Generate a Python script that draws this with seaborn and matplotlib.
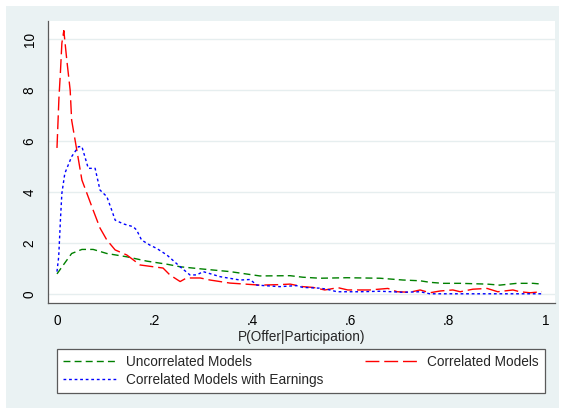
import pandas as pd
import seaborn as sns
import matplotlib.pyplot as plt
from matplotlib.patches import Rectangle
from matplotlib.lines import Line2D

# kernel density readings, P(Offer|Participation) vs density
unc_x = [0.000, 0.013, 0.030, 0.051, 0.074, 0.102, 0.143, 0.184, 0.225, 0.252,
         0.293, 0.354, 0.415, 0.477, 0.503, 0.538, 0.593, 0.661, 0.708, 0.743,
         0.763, 0.790, 0.825, 0.880, 0.906, 0.941, 0.974, 0.992]
unc_y = [0.80, 1.15, 1.60, 1.76, 1.76, 1.60, 1.47, 1.30, 1.18, 1.08,
         1.00, 0.89, 0.72, 0.73, 0.67, 0.63, 0.65, 0.63, 0.56, 0.53,
         0.47, 0.43, 0.43, 0.40, 0.36, 0.43, 0.43, 0.40]

cor_x = [0.000, 0.004, 0.007, 0.010, 0.014, 0.020, 0.027, 0.030, 0.037, 0.044,
         0.051, 0.061, 0.074, 0.088, 0.102, 0.119, 0.143, 0.170, 0.197, 0.217,
         0.231, 0.252, 0.265, 0.293, 0.313, 0.354, 0.415, 0.456, 0.477, 0.503,
         0.524, 0.548, 0.575, 0.595, 0.640, 0.677, 0.696, 0.722, 0.743, 0.763,
         0.784, 0.810, 0.825, 0.851, 0.880, 0.902, 0.933, 0.947, 0.968, 0.992]
cor_y = [5.74, 7.70, 8.70, 9.85, 10.34, 9.20, 8.00, 6.83, 6.05, 5.27,
         4.48, 3.97, 3.30, 2.60, 2.13, 1.74, 1.54, 1.15, 1.08, 1.03,
         0.76, 0.50, 0.64, 0.64, 0.56, 0.44, 0.36, 0.38, 0.40, 0.30,
         0.27, 0.17, 0.26, 0.17, 0.17, 0.23, 0.10, 0.08, 0.17, 0.06,
         0.13, 0.17, 0.10, 0.20, 0.23, 0.10, 0.17, 0.10, 0.06, 0.10]

earn_x = [0.000, 0.0035, 0.007, 0.010, 0.016, 0.030, 0.044, 0.051, 0.057, 0.064,
          0.078, 0.088, 0.102, 0.112, 0.119, 0.136, 0.156, 0.163, 0.173, 0.190,
          0.204, 0.225, 0.252, 0.272, 0.286, 0.299, 0.334, 0.3745, 0.395, 0.409,
          0.456, 0.490, 0.503, 0.538, 0.552, 0.573, 0.620, 0.661, 0.708, 0.743,
          0.763, 0.850, 0.992]
earn_y = [0.89, 1.47, 2.90, 3.96, 4.74, 5.40, 5.79, 5.79, 5.40, 4.94,
          4.94, 4.09, 3.83, 3.30, 2.91, 2.76, 2.65, 2.52, 2.13, 1.93,
          1.80, 1.54, 1.08, 0.76, 0.76, 0.89, 0.69, 0.56, 0.58, 0.36,
          0.30, 0.34, 0.27, 0.24, 0.20, 0.10, 0.10, 0.12, 0.08, 0.10,
          0.02, 0.02, 0.02]

models = ['Uncorrelated Models', 'Correlated Models', 'Correlated Models with Earnings']
xticks = [0, 0.2, 0.4, 0.6, 0.8, 1]
xtick_labels = ['0', '.2', '.4', '.6', '.8', '1']
yticks = [0, 2, 4, 6, 8, 10]

df = pd.concat([
    pd.DataFrame({'p': unc_x, 'density': unc_y, 'model': models[0]}),
    pd.DataFrame({'p': cor_x, 'density': cor_y, 'model': models[1]}),
    pd.DataFrame({'p': earn_x, 'density': earn_y, 'model': models[2]}),
])

sns.set_style('white')
plt.rcParams['font.family'] = ['Liberation Sans', 'DejaVu Sans']
plt.rcParams['font.size'] = 9.8

colors = {models[0]: '#008000', models[1]: '#FF0000', models[2]: '#0000FF'}
dashes = {models[0]: (5, 3), models[1]: (10, 3.5), models[2]: (2, 2)}

W, H = 565, 413
fig = plt.figure(figsize=(W / 100, H / 100), dpi=100)
fig.patch.set_facecolor('white')
fig.add_artist(Rectangle((6 / W, 5 / H), 553 / W, 402 / H, transform=fig.transFigure,
                         facecolor='#EAF2F3', edgecolor='none', zorder=0))

ax = fig.add_axes([47.7 / W, (H - 303.3) / H, (555 - 47.7) / W, (303.3 - 20.7) / H])
ax.set_facecolor('white')

sns.lineplot(data=df, x='p', y='density', hue='model', style='model',
             hue_order=models, style_order=models, palette=colors, dashes=dashes,
             estimator=None, linewidth=1.0, legend=False, ax=ax)

ax.set_xlim(-0.019, 1.019)
ax.set_ylim(-0.353, 10.73)
ax.set_xticks(xticks)
ax.set_xticklabels(xtick_labels)
ax.set_yticks(yticks)
ax.set_yticklabels([str(t) for t in yticks], rotation=90, va='center')
ax.set_xlabel('P(Offer|Participation)', labelpad=1)
ax.set_ylabel('')

ax.yaxis.grid(True, color='#E6EEEF', linewidth=1.0)
ax.xaxis.grid(False)
ax.set_axisbelow(True)
for side in ['top', 'right']:
    ax.spines[side].set_visible(False)
for side in ['left', 'bottom']:
    ax.spines[side].set_color('#5A5A5A')
    ax.spines[side].set_linewidth(0.9)
ax.tick_params(axis='both', direction='out', length=4, width=0.9, color='#5A5A5A',
               pad=4, labelcolor='black')

handles = [Line2D([], [], color=colors[m], linestyle=(0, dashes[m]), linewidth=1.0) for m in models]
order = [0, 2, 1]
leg = fig.legend([handles[i] for i in order], [models[i] for i in order],
                 loc='upper left', bbox_to_anchor=(57 / W, (H - 396) / H, (545 - 57) / W, (396 - 349) / H),
                 mode='expand', ncol=2, frameon=True, fancybox=False, handlelength=4.0,
                 handletextpad=0.6, labelspacing=0.25, borderpad=0.45, borderaxespad=0)
leg.get_frame().set_edgecolor('#5A5A5A')
leg.get_frame().set_linewidth(0.9)
leg.get_frame().set_facecolor('white')
leg.get_frame().set_alpha(1)

fig.savefig('out.png', dpi=100)
